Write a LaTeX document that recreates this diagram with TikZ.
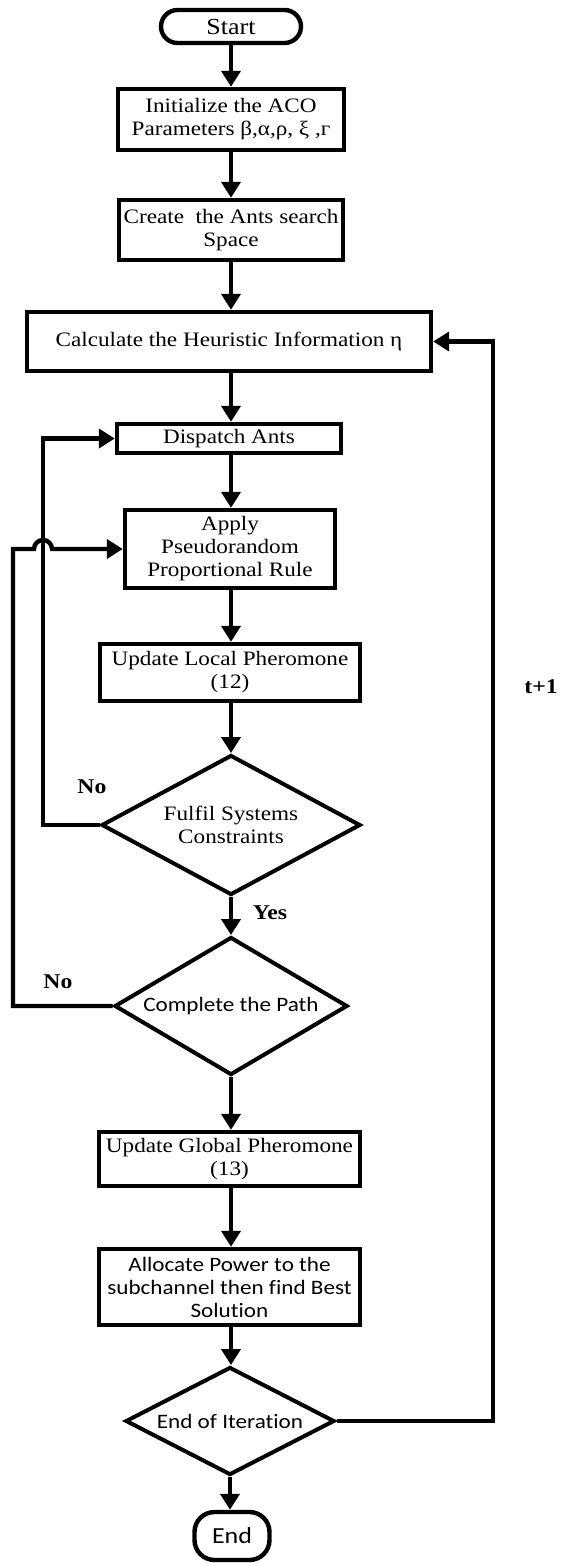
\documentclass[tikz,border=0pt]{standalone}
\usepackage{fontspec}
\setmainfont{Liberation Serif}[FakeStretch=1.13]
\newfontfamily\sansf{Carlito}[FakeStretch=1.13,Ligatures=NoCommon]
\usetikzlibrary{shapes.geometric,arrows.meta,calc}
\begin{document}
\begin{tikzpicture}[x=1pt,y=-1pt,
  font=\fontsize{20.5pt}{23pt}\selectfont,
  box/.style={draw, line width=4.4pt, rectangle, inner sep=0pt, align=center},
  dia/.style={draw, line width=4pt, diamond, inner sep=0pt},
  dtext/.style={align=center, inner sep=0pt},
  sans/.style={font=\sansf\fontsize{20.5pt}{23pt}\selectfont},
  term/.style={draw, line width=4.4pt, rectangle, inner sep=0pt, align=center},
  arr/.style={line width=4.4pt, -{Triangle[length=16pt,width=19pt]}},
  lbl/.style={font=\fontsize{21pt}{23pt}\selectfont\bfseries}]
\useasboundingbox (0,0) rectangle (560,1564);
\fill[white] (0,0) rectangle (560,1564);

\node[term, rounded corners=16.5pt, minimum width=140pt, minimum height=33pt,
  font=\fontsize{23pt}{25pt}\selectfont] (start) at (231,26.5) {Start};
\node[box, minimum width=226pt, minimum height=61pt] (init) at (231,119.5)
  {Initialize the ACO\\Parameters β,α,ρ, ξ ,г};
\node[box, minimum width=224pt, minimum height=60pt] (create) at (231,230)
  {Create\ \ the Ants search\\Space};
\node[box, minimum width=404pt, minimum height=59pt] (calc) at (229,341.5)
  {Calculate the Heuristic Information η};
\node[box, minimum width=224pt, minimum height=29pt] (dispatch) at (229,438.5)
  {Dispatch Ants};
\node[box, minimum width=210pt, minimum height=78pt] (apply) at (230,549)
  {Apply\\Pseudorandom\\Proportional Rule};
\node[box, minimum width=260pt, minimum height=57pt] (local) at (230,672.5)
  {Update Local Pheromone\\(12)};
\node[dia, minimum width=259pt, minimum height=140pt] (d1) at (231,825) {};
\node[dtext] (d1t) at (d1) {Fulfil Systems\\Constraints};
\node[dia, minimum width=233pt, minimum height=138pt] (d2) at (231,1006) {};
\node[dtext, sans] (d2t) at (d2) {Complete the Path};
\node[box, minimum width=261pt, minimum height=54pt] (global) at (229.5,1159)
  {Update Global Pheromone\\(13)};
\node[box, sans, minimum width=261pt, minimum height=76pt] (alloc) at (229.5,1287)
  {Allocate Power to the\\subchannel then find Best\\Solution};
\node[dia, minimum width=209pt, minimum height=108pt] (d3) at (230,1421) {};
\node[dtext, sans] (d3t) at (d3) {End of Iteration};
\node[term, rounded corners=20pt, minimum width=75pt, minimum height=48pt,
  font=\sansf\fontsize{23pt}{25pt}\selectfont] (end) at (232,1536) {End};

\draw[arr] (start) -- (init);
\draw[arr] (init) -- (create);
\draw[arr] (create.south) -- (create.south |- calc.north);
\draw[arr] (calc.south -| create.south) -- (create.south |- dispatch.north);
\draw[arr] (dispatch.south -| create.south) -- (create.south |- apply.north);
\draw[arr] (apply.south -| create.south) -- (create.south |- local.north);
\draw[arr] (local.south -| create.south) -- (d1.north);
\draw[arr] (d1.south) -- (d2.north);
\draw[arr] (d2.south) -- (d2.south |- global.north);
\draw[arr] (global.south -| d2.south) -- (d2.south |- alloc.north);
\draw[arr] (alloc.south -| d2.south) -- (d2.south |- d3.north);
\draw[arr] (d3.south) -- (d3.south |- end.north);

\coordinate (l1) at (43,0);
\coordinate (l2) at (13,0);
\coordinate (l3) at (493,0);
\draw[arr] (d1.west) -- (d1.west -| l1) |- (dispatch.west);
\draw[arr] (d2.west) -- (d2.west -| l2) |- ($(apply.west -| l1)+(-9pt,0)$)
  arc[start angle=180, end angle=0, radius=9pt] -- (apply.west);
\draw[arr] (d3.east) -- (d3.east -| l3) |- (calc.east);

\node[lbl] (no1) at (92,787) {No};
\node[lbl] (yes) at (270,913) {Yes};
\node[lbl] (no2) at (58,982) {No};
\node[lbl] (t1) at (541,687) {t+1};
\end{tikzpicture}
\end{document}
